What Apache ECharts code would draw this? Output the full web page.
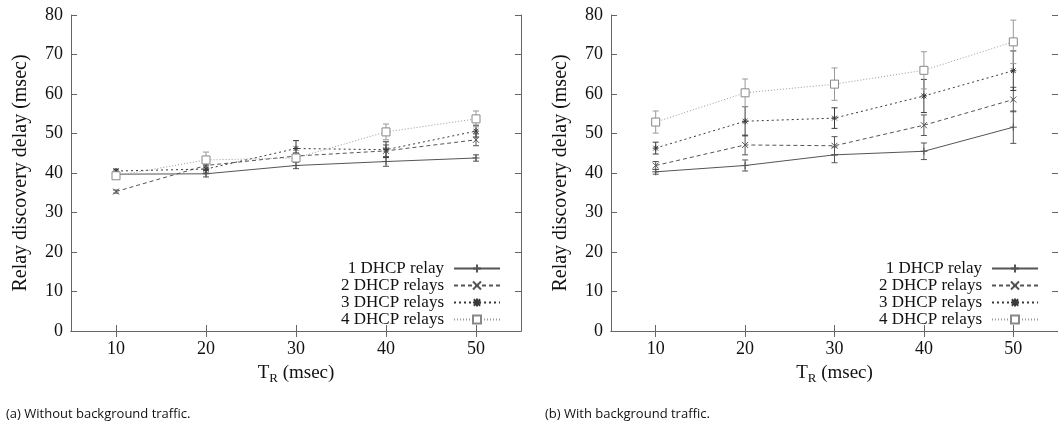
<!DOCTYPE html>
<html><head><meta charset="utf-8">
<script src="https://cdn.jsdelivr.net/npm/echarts@6/dist/echarts.min.js"></script>
<style>html,body{margin:0;padding:0;background:#fff}#c{width:1058px;height:426px}</style>
</head><body><div id="c"></div>
<script>
// ---- data ----
const xValues = [10, 20, 30, 40, 50];
const seriesNames = ['1 DHCP relay', '2 DHCP relays', '3 DHCP relays', '4 DHCP relays'];
// (a) without background traffic
const noBg1 = [39.7, 39.8, 41.9, 42.9, 43.8];
const noBg1Err = [0.5, 0.8, 0.8, 1.2, 0.8];
const noBg2 = [35.3, 41.9, 44.3, 45.6, 48.4];
const noBg2Err = [0.4, 1.0, 0.8, 1.5, 1.5];
const noBg3 = [40.5, 41.0, 46.2, 45.9, 50.6];
const noBg3Err = [0.5, 1.0, 2.0, 2.0, 1.5];
const noBg4 = [39.3, 43.3, 43.8, 50.4, 53.7];
const noBg4Err = [0.6, 2.0, 1.0, 2.0, 2.0];
// (b) with background traffic
const bg1 = [40.3, 41.9, 44.6, 45.5, 51.6];
const bg1Err = [0.6, 1.4, 2.0, 2.1, 4.1];
const bg2 = [41.9, 47.1, 46.9, 52.1, 58.6];
const bg2Err = [1.0, 2.5, 2.3, 2.6, 3.1];
const bg3 = [46.3, 53.1, 53.9, 59.5, 65.9];
const bg3Err = [1.5, 3.7, 2.6, 4.2, 5.0];
const bg4 = [52.9, 60.3, 62.5, 66.0, 73.2];
const bg4Err = [2.8, 3.5, 4.1, 4.7, 5.5];
const captions = ['(a) Without background traffic.', '(b) With background traffic.'];
const yTitle = 'Relay discovery delay (msec)';
const xTitle = '{t|T}{s|R}{t| (msec)}';

// ---- styles ----
const SERIF = "'Liberation Serif', 'Times New Roman', serif";
const AX = '#666';
const styles = [
  {color: '#555', type: 'solid', symbol: 'path://M5,0L5,10M0,5L10,5', size: 7},
  {color: '#555', type: [4, 3], symbol: 'path://M0,0L10,10M10,0L0,10', size: 6},
  {color: '#3a3a3a', type: [2, 3], symbol: 'path://M5,0L5,10M0,5L10,5M1,1L9,9M9,1L1,9', size: 6},
  {color: '#999', type: [1, 2], symbol: 'rect', size: 8, empty: true}
];

const plots = [
  {vals: [noBg1, noBg2, noBg3, noBg4], errs: [noBg1Err, noBg2Err, noBg3Err, noBg4Err]},
  {vals: [bg1, bg2, bg3, bg4], errs: [bg1Err, bg2Err, bg3Err, bg4Err]}
];

const grids = [
  {left: 71, top: 15, width: 450, height: 316},
  {left: 611, top: 15, width: 448, height: 316}
];

const xAxes = [], yAxes = [], series = [];
grids.forEach((g, gi) => {
  xAxes.push({
    type: 'value', gridIndex: gi, min: 5, max: 55, position: 'bottom',
    axisLine: {lineStyle: {color: AX, width: 1}},
    axisTick: {inside: true, length: 6, customValues: xValues, lineStyle: {color: AX}},
    axisLabel: {customValues: xValues, fontSize: 18, color: '#111', fontFamily: SERIF, margin: 9},
    splitLine: {show: false},
    name: xTitle, nameLocation: 'middle', nameGap: 31,
    nameTextStyle: {
      color: '#111', fontFamily: SERIF,
      rich: {
        t: {fontSize: 19, fontFamily: SERIF, color: '#111'},
        s: {fontSize: 13, fontFamily: SERIF, color: '#111', padding: [10, 0, 0, 0]}
      }
    }
  });
  xAxes.push({
    type: 'value', gridIndex: gi, min: 5, max: 55, position: 'top',
    axisLine: {lineStyle: {color: AX}},
    axisTick: {inside: true, length: 6, customValues: xValues, lineStyle: {color: AX}},
    axisLabel: {show: false}, splitLine: {show: false}
  });
  yAxes.push({
    type: 'value', gridIndex: gi, min: 0, max: 80, interval: 10, position: 'left',
    axisLine: {show: true, lineStyle: {color: AX}},
    axisTick: {show: true, inside: true, length: 6, lineStyle: {color: AX}},
    axisLabel: {fontSize: 18, color: '#111', fontFamily: SERIF, margin: 8},
    splitLine: {show: false},
    name: yTitle, nameLocation: 'middle', nameRotate: 90, nameGap: 40,
    nameTextStyle: {fontSize: 20, color: '#111', fontFamily: SERIF}
  });
  yAxes.push({
    type: 'value', gridIndex: gi, min: 0, max: 80, interval: 10, position: 'right',
    axisLine: {show: true, lineStyle: {color: AX}},
    axisTick: {show: true, inside: true, length: 6, lineStyle: {color: AX}},
    axisLabel: {show: false}, splitLine: {show: false}
  });
  const xi = gi * 2, yi = gi * 2;
  const p = plots[gi];
  p.vals.forEach((v, si) => {
    const st = styles[si];
    series.push({
      type: 'line', name: seriesNames[si], xAxisIndex: xi, yAxisIndex: yi,
      data: xValues.map((x, i) => [x, v[i]]),
      symbol: st.symbol, symbolSize: st.size, showSymbol: true,
      lineStyle: {color: st.color, width: 1, type: st.type},
      itemStyle: st.empty
        ? {color: '#fff', borderColor: '#888', borderWidth: 1}
        : {color: st.color, borderColor: st.color, borderWidth: 1},
      z: 3 + si, silent: true
    });
    const e = p.errs[si];
    series.push({
      type: 'custom', name: seriesNames[si] + ' err', xAxisIndex: xi, yAxisIndex: yi,
      data: xValues.map((x, i) => [x, v[i] - e[i], v[i] + e[i]]),
      renderItem: function (params, api) {
        const x = api.value(0);
        const a = api.coord([x, api.value(1)]);
        const b = api.coord([x, api.value(2)]);
        const w = 3;
        const ls = {stroke: st.color, lineWidth: 1};
        return {type: 'group', children: [
          {type: 'line', shape: {x1: a[0], y1: a[1], x2: b[0], y2: b[1]}, style: ls},
          {type: 'line', shape: {x1: a[0] - w, y1: a[1], x2: a[0] + w, y2: a[1]}, style: ls},
          {type: 'line', shape: {x1: b[0] - w, y1: b[1], x2: b[0] + w, y2: b[1]}, style: ls}
        ]};
      },
      z: 2, silent: true
    });
  });
});

const legendBase = {
  orient: 'vertical', align: 'right', itemWidth: 46, itemHeight: 10, itemGap: 0,
  data: seriesNames, selectedMode: false,
  textStyle: {fontSize: 17, fontFamily: SERIF, color: '#111', lineHeight: 17, padding: [0, 5, 0, 0]}
};

const option = {
  animation: false,
  backgroundColor: '#fff',
  grid: grids,
  xAxis: xAxes,
  yAxis: yAxes,
  legend: [
    Object.assign({}, legendBase, {right: 552, top: 255}),
    Object.assign({}, legendBase, {right: 14, top: 255})
  ],
  graphic: [
    {type: 'text', left: 6, top: 408, style: {text: captions[0], fontSize: 13, fontFamily: "'Open Sans', sans-serif", fill: '#111'}},
    {type: 'text', left: 545, top: 408, style: {text: captions[1], fontSize: 13, fontFamily: "'Open Sans', sans-serif", fill: '#111'}}
  ],
  series: series
};

const chart = echarts.init(document.getElementById('c'));
chart.setOption(option);
</script>
</body></html>
